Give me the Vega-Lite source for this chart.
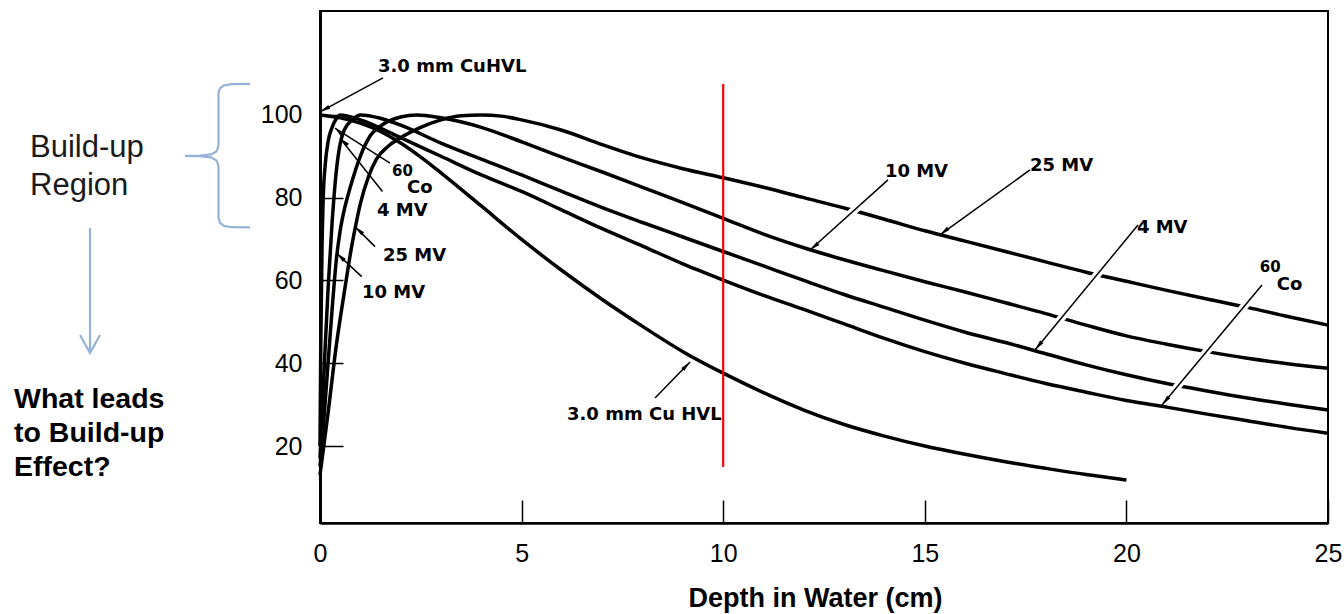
{
  "$schema": "https://vega.github.io/schema/vega-lite/v6.json",
  "width": 1008,
  "height": 512,
  "autosize": {"type": "none"},
  "padding": {"left": 320, "top": 11, "right": 16, "bottom": 91},
  "background": "white",
  "config": {"view": {"stroke": "black", "strokeWidth": 2}, "axis": {"grid": false}},
  "datasets": {
    "curves": [
      {"beam":"Cu","depth":0,"dose":100},{"beam":"Cu","depth":0.5,"dose":99.3},{"beam":"Cu","depth":1,"dose":98},{"beam":"Cu","depth":1.5,"dose":96},{"beam":"Cu","depth":2,"dose":93.2},{"beam":"Cu","depth":2.5,"dose":89.8},{"beam":"Cu","depth":3,"dose":86},{"beam":"Cu","depth":4,"dose":78},{"beam":"Cu","depth":5,"dose":69.9},{"beam":"Cu","depth":6,"dose":62.4},{"beam":"Cu","depth":7,"dose":55.4},{"beam":"Cu","depth":8,"dose":48.9},{"beam":"Cu","depth":9,"dose":42.8},{"beam":"Cu","depth":10,"dose":37.6},{"beam":"Cu","depth":11,"dose":32.9},{"beam":"Cu","depth":12,"dose":28.7},{"beam":"Cu","depth":13,"dose":25.2},{"beam":"Cu","depth":14,"dose":22.4},{"beam":"Cu","depth":15,"dose":20},{"beam":"Cu","depth":16,"dose":18},{"beam":"Cu","depth":17,"dose":16.2},{"beam":"Cu","depth":18,"dose":14.6},{"beam":"Cu","depth":19,"dose":13.1},{"beam":"Cu","depth":20,"dose":11.8},
      {"beam":"Co","depth":0,"dose":20},{"beam":"Co","depth":0.02,"dose":45},{"beam":"Co","depth":0.05,"dose":68},{"beam":"Co","depth":0.08,"dose":80},{"beam":"Co","depth":0.13,"dose":88},{"beam":"Co","depth":0.2,"dose":93.5},{"beam":"Co","depth":0.3,"dose":97},{"beam":"Co","depth":0.4,"dose":99},{"beam":"Co","depth":0.5,"dose":100},{"beam":"Co","depth":1,"dose":98.8},{"beam":"Co","depth":2,"dose":94.5},{"beam":"Co","depth":3,"dose":90},{"beam":"Co","depth":4,"dose":85.5},{"beam":"Co","depth":5,"dose":81.5},{"beam":"Co","depth":6,"dose":77},{"beam":"Co","depth":7,"dose":72.5},{"beam":"Co","depth":8,"dose":68.3},{"beam":"Co","depth":9,"dose":64},{"beam":"Co","depth":10,"dose":60.1},{"beam":"Co","depth":11,"dose":56.4},{"beam":"Co","depth":12,"dose":53},{"beam":"Co","depth":13,"dose":49.5},{"beam":"Co","depth":14,"dose":46},{"beam":"Co","depth":15,"dose":42.8},{"beam":"Co","depth":16,"dose":40},{"beam":"Co","depth":17,"dose":37.5},{"beam":"Co","depth":18,"dose":35.1},{"beam":"Co","depth":19,"dose":33},{"beam":"Co","depth":20,"dose":31},{"beam":"Co","depth":21,"dose":29.4},{"beam":"Co","depth":22,"dose":27.7},{"beam":"Co","depth":23,"dose":26.1},{"beam":"Co","depth":24,"dose":24.5},{"beam":"Co","depth":25,"dose":23.1},
      {"beam":"4MV","depth":0,"dose":17},{"beam":"4MV","depth":0.1,"dose":38},{"beam":"4MV","depth":0.2,"dose":58},{"beam":"4MV","depth":0.3,"dose":74},{"beam":"4MV","depth":0.4,"dose":86},{"beam":"4MV","depth":0.5,"dose":93},{"beam":"4MV","depth":0.6,"dose":96.3},{"beam":"4MV","depth":0.8,"dose":98.8},{"beam":"4MV","depth":1,"dose":100},{"beam":"4MV","depth":1.5,"dose":99.2},{"beam":"4MV","depth":2,"dose":97.5},{"beam":"4MV","depth":3,"dose":93.2},{"beam":"4MV","depth":4,"dose":89.3},{"beam":"4MV","depth":5,"dose":85.5},{"beam":"4MV","depth":6,"dose":81.5},{"beam":"4MV","depth":7,"dose":77.6},{"beam":"4MV","depth":8,"dose":74},{"beam":"4MV","depth":9,"dose":70.5},{"beam":"4MV","depth":10,"dose":67},{"beam":"4MV","depth":11,"dose":63.5},{"beam":"4MV","depth":12,"dose":60},{"beam":"4MV","depth":13,"dose":56.6},{"beam":"4MV","depth":14,"dose":53.5},{"beam":"4MV","depth":15,"dose":50.4},{"beam":"4MV","depth":16,"dose":47.5},{"beam":"4MV","depth":17,"dose":45},{"beam":"4MV","depth":18,"dose":42.3},{"beam":"4MV","depth":19,"dose":39.6},{"beam":"4MV","depth":20,"dose":37.2},{"beam":"4MV","depth":21,"dose":35.1},{"beam":"4MV","depth":22,"dose":33.3},{"beam":"4MV","depth":23,"dose":31.6},{"beam":"4MV","depth":24,"dose":30.1},{"beam":"4MV","depth":25,"dose":28.7},
      {"beam":"10MV","depth":0,"dose":15},{"beam":"10MV","depth":0.1,"dose":27},{"beam":"10MV","depth":0.2,"dose":40},{"beam":"10MV","depth":0.3,"dose":53},{"beam":"10MV","depth":0.4,"dose":64.5},{"beam":"10MV","depth":0.5,"dose":72},{"beam":"10MV","depth":0.6,"dose":77},{"beam":"10MV","depth":0.75,"dose":82.5},{"beam":"10MV","depth":1,"dose":90},{"beam":"10MV","depth":1.25,"dose":95},{"beam":"10MV","depth":1.5,"dose":97.3},{"beam":"10MV","depth":2,"dose":99.5},{"beam":"10MV","depth":2.4,"dose":100},{"beam":"10MV","depth":3,"dose":99.3},{"beam":"10MV","depth":4,"dose":97},{"beam":"10MV","depth":5,"dose":93.5},{"beam":"10MV","depth":6,"dose":89.8},{"beam":"10MV","depth":7,"dose":86.2},{"beam":"10MV","depth":8,"dose":82.5},{"beam":"10MV","depth":9,"dose":78.8},{"beam":"10MV","depth":10,"dose":75},{"beam":"10MV","depth":11,"dose":71.2},{"beam":"10MV","depth":12,"dose":67.9},{"beam":"10MV","depth":13,"dose":65},{"beam":"10MV","depth":14,"dose":62.3},{"beam":"10MV","depth":15,"dose":59.7},{"beam":"10MV","depth":16,"dose":57.2},{"beam":"10MV","depth":17,"dose":54.6},{"beam":"10MV","depth":18,"dose":52},{"beam":"10MV","depth":19,"dose":49.2},{"beam":"10MV","depth":20,"dose":46.6},{"beam":"10MV","depth":21,"dose":44.6},{"beam":"10MV","depth":22,"dose":42.8},{"beam":"10MV","depth":23,"dose":41.2},{"beam":"10MV","depth":24,"dose":39.9},{"beam":"10MV","depth":25,"dose":38.8},
      {"beam":"25MV","depth":0,"dose":13},{"beam":"25MV","depth":0.2,"dose":28},{"beam":"25MV","depth":0.4,"dose":44},{"beam":"25MV","depth":0.6,"dose":57},{"beam":"25MV","depth":0.8,"dose":69},{"beam":"25MV","depth":0.9,"dose":74},{"beam":"25MV","depth":1,"dose":78.5},{"beam":"25MV","depth":1.2,"dose":85},{"beam":"25MV","depth":1.4,"dose":89.3},{"beam":"25MV","depth":1.7,"dose":92.5},{"beam":"25MV","depth":2,"dose":94.5},{"beam":"25MV","depth":2.5,"dose":97},{"beam":"25MV","depth":3,"dose":98.8},{"beam":"25MV","depth":3.5,"dose":99.8},{"beam":"25MV","depth":4,"dose":100},{"beam":"25MV","depth":4.5,"dose":99.7},{"beam":"25MV","depth":5,"dose":98.8},{"beam":"25MV","depth":6,"dose":96.3},{"beam":"25MV","depth":7,"dose":92.8},{"beam":"25MV","depth":8,"dose":89.6},{"beam":"25MV","depth":9,"dose":87},{"beam":"25MV","depth":10,"dose":84.8},{"beam":"25MV","depth":11,"dose":82.5},{"beam":"25MV","depth":12,"dose":80},{"beam":"25MV","depth":13,"dose":77.5},{"beam":"25MV","depth":14,"dose":74.8},{"beam":"25MV","depth":15,"dose":72},{"beam":"25MV","depth":16,"dose":69.5},{"beam":"25MV","depth":17,"dose":67},{"beam":"25MV","depth":18,"dose":64.5},{"beam":"25MV","depth":19,"dose":62},{"beam":"25MV","depth":20,"dose":59.8},{"beam":"25MV","depth":21,"dose":57.6},{"beam":"25MV","depth":22,"dose":55.5},{"beam":"25MV","depth":23,"dose":53.5},{"beam":"25MV","depth":24,"dose":51.3},{"beam":"25MV","depth":25,"dose":49.2}
    ],
    "labels": [
      {"t":"3.0 mm CuHVL","depth":1.438,"dose":110.39},
      {"t":"Co","depth":2.158,"dose":81.15},
      {"t":"4 MV","depth":1.414,"dose":75.59},
      {"t":"25 MV","depth":1.563,"dose":64.71},
      {"t":"10 MV","depth":1.042,"dose":55.77},
      {"t":"10 MV","depth":14.01,"dose":85.0},
      {"t":"25 MV","depth":17.61,"dose":86.47},
      {"t":"4 MV","depth":20.26,"dose":71.48},
      {"t":"Co","depth":23.73,"dose":57.7},
      {"t":"3.0 mm Cu HVL","depth":6.126,"dose":26.28}
    ],
    "sups": [
      {"t":"60","depth":1.786,"dose":85.26},
      {"t":"60","depth":23.31,"dose":62.05}
    ],
    "side": [
      {"t":"Build-up","depth":-7.192,"dose":89.85},
      {"t":"Region","depth":-7.192,"dose":80.66}
    ],
    "question": [
      {"t":"What leads","depth":-7.589,"dose":29.18},
      {"t":"to Build-up","depth":-7.589,"dose":20.97},
      {"t":"Effect?","depth":-7.589,"dose":12.75}
    ],
    "halo": [
      {"depth":13.70,"dose":80.9,"depth2":12.54,"dose2":70.75},
      {"depth":20.03,"dose":70.39,"depth2":18.12,"dose2":47.73},
      {"depth":23.115,"dose":56.01,"depth2":21.13,"dose2":32.8}
    ],
    "arrows": [
      {"g":"A","depth":1.5625,"dose":108.94,"depth2":0,"dose2":100.73},
      {"g":"D","depth":1.736,"dose":88.33,"depth2":0.372,"dose2":96.79},
      {"g":"D","depth":1.55,"dose":81.5,"depth2":0.496,"dose2":94.37},
      {"g":"D","depth":1.364,"dose":68.17,"depth2":0.868,"dose2":73.0},
      {"g":"D","depth":1.034,"dose":60.92,"depth2":0.414,"dose2":66.57},
      {"g":"B","depth":14.087,"dose":84.29,"depth2":12.153,"dose2":67.37},
      {"g":"B","depth":17.609,"dose":86.71,"depth2":15.377,"dose2":70.99},
      {"g":"C","depth":20.288,"dose":73.41,"depth2":17.733,"dose2":43.2},
      {"g":"C","depth":23.363,"dose":58.91,"depth2":20.883,"dose2":29.91},
      {"g":"E","depth":8.309,"dose":31.6,"depth2":9.177,"dose2":40.3}
    ],
    "deco": [
      {"part":"brace","i":1,"depth":-1.736,"dose":107.49},
      {"part":"brace","i":2,"depth":-2.183,"dose":107.42},
      {"part":"brace","i":3,"depth":-2.381,"dose":107.13},
      {"part":"brace","i":4,"depth":-2.48,"dose":106.4},
      {"part":"brace","i":5,"depth":-2.517,"dose":105.32},
      {"part":"brace","i":6,"depth":-2.517,"dose":92.51},
      {"part":"brace","i":7,"depth":-2.567,"dose":91.18},
      {"part":"brace","i":8,"depth":-2.703,"dose":90.45},
      {"part":"brace","i":9,"depth":-2.976,"dose":90.16},
      {"part":"brace","i":10,"depth":-3.348,"dose":90.09},
      {"part":"brace","i":11,"depth":-2.976,"dose":90.02},
      {"part":"brace","i":12,"depth":-2.703,"dose":89.73},
      {"part":"brace","i":13,"depth":-2.567,"dose":89.0},
      {"part":"brace","i":14,"depth":-2.517,"dose":87.67},
      {"part":"brace","i":15,"depth":-2.517,"dose":75.11},
      {"part":"brace","i":16,"depth":-2.48,"dose":73.9},
      {"part":"brace","i":17,"depth":-2.381,"dose":73.17},
      {"part":"brace","i":18,"depth":-2.183,"dose":72.86},
      {"part":"brace","i":19,"depth":-1.736,"dose":72.81},
      {"part":"shaft","i":1,"depth":-5.704,"dose":72.69},
      {"part":"shaft","i":2,"depth":-5.704,"dose":42.6},
      {"part":"chev","i":1,"depth":-5.952,"dose":46.83},
      {"part":"chev","i":2,"depth":-5.704,"dose":42.48},
      {"part":"chev","i":3,"depth":-5.456,"dose":46.83}
    ],
    "redline": [
      {"depth":10,"dose":14.92,"dose2":107.49}
    ]
  },
  "layer": [
    {
      "data": {"name": "curves"},
      "mark": {"type": "line", "color": "black", "strokeWidth": 3.5, "interpolate": "monotone"},
      "encoding": {
        "x": {"field": "depth", "type": "quantitative", "title": "Depth in Water (cm)", "scale": {"domain": [0, 25], "nice": false, "zero": false},
          "axis": {"values": [0, 5, 10, 15, 20, 25], "tickSize": -23, "tickColor": "black", "tickWidth": 1.5,
            "domainColor": "black", "domainWidth": 2.5, "labelFont": "Liberation Sans Narrow, Liberation Sans", "labelFontSize": 25,
            "labelColor": "black", "labelPadding": 41, "labelFlush": false, "labelOverlap": false,
            "title": "Depth in Water (cm)", "titleFont": "Liberation Sans", "titleFontWeight": "bold", "titleFontSize": 27,
            "titleColor": "black", "titleBaseline": "alphabetic", "titleY": 83, "titleX": 495}},
        "y": {"field": "dose", "type": "quantitative", "title": null, "scale": {"domain": [1.4, 125.1], "nice": false, "zero": false},
          "axis": {"values": [20, 40, 60, 80, 100], "tickSize": -23, "tickColor": "black", "tickWidth": 1.5,
            "domainColor": "black", "domainWidth": 3, "labelFont": "Liberation Sans Narrow, Liberation Sans", "labelFontSize": 25,
            "labelColor": "black", "labelPadding": 41, "labelOverlap": false, "title": null}},
        "detail": {"field": "beam"}
      }
    },
    {
      "data": {"name": "halo"},
      "mark": {"type": "rule", "color": "white", "strokeWidth": 8, "strokeCap": "butt"},
      "encoding": {
        "x": {"field": "depth", "type": "quantitative"},
        "y": {"field": "dose", "type": "quantitative"},
        "x2": {"field": "depth2"},
        "y2": {"field": "dose2"}
      }
    },
    {
      "data": {"name": "redline"},
      "mark": {"type": "rule", "color": "#ff0000", "strokeWidth": 2.2},
      "encoding": {
        "x": {"field": "depth", "type": "quantitative"},
        "y": {"field": "dose", "type": "quantitative"},
        "y2": {"field": "dose2"}
      }
    },
    {
      "data": {"name": "arrows"},
      "mark": {"type": "rule", "color": "black", "strokeWidth": 1.5},
      "encoding": {
        "x": {"field": "depth", "type": "quantitative"},
        "y": {"field": "dose", "type": "quantitative"},
        "x2": {"field": "depth2"},
        "y2": {"field": "dose2"}
      }
    },
    {
      "data": {"name": "arrows"},
      "transform": [{"filter": "datum.g == 'A'"}],
      "mark": {"type": "point", "filled": true, "color": "black", "opacity": 1, "shape": "M0,0L0.45,2.2L-0.45,2.2Z", "size": 90, "angle": 242},
      "encoding": {"x": {"field": "depth2", "type": "quantitative"}, "y": {"field": "dose2", "type": "quantitative"}}
    },
    {
      "data": {"name": "arrows"},
      "transform": [{"filter": "datum.g == 'B'"}],
      "mark": {"type": "point", "filled": true, "color": "black", "opacity": 1, "shape": "M0,0L0.45,2.2L-0.45,2.2Z", "size": 90, "angle": 231},
      "encoding": {"x": {"field": "depth2", "type": "quantitative"}, "y": {"field": "dose2", "type": "quantitative"}}
    },
    {
      "data": {"name": "arrows"},
      "transform": [{"filter": "datum.g == 'C'"}],
      "mark": {"type": "point", "filled": true, "color": "black", "opacity": 1, "shape": "M0,0L0.45,2.2L-0.45,2.2Z", "size": 90, "angle": 220},
      "encoding": {"x": {"field": "depth2", "type": "quantitative"}, "y": {"field": "dose2", "type": "quantitative"}}
    },
    {
      "data": {"name": "arrows"},
      "transform": [{"filter": "datum.g == 'D'"}],
      "mark": {"type": "point", "filled": true, "color": "black", "opacity": 1, "shape": "M0,0L0.45,2.2L-0.45,2.2Z", "size": 90, "angle": 313},
      "encoding": {"x": {"field": "depth2", "type": "quantitative"}, "y": {"field": "dose2", "type": "quantitative"}}
    },
    {
      "data": {"name": "arrows"},
      "transform": [{"filter": "datum.g == 'E'"}],
      "mark": {"type": "point", "filled": true, "color": "black", "opacity": 1, "shape": "M0,0L0.45,2.2L-0.45,2.2Z", "size": 90, "angle": 44},
      "encoding": {"x": {"field": "depth2", "type": "quantitative"}, "y": {"field": "dose2", "type": "quantitative"}}
    },
    {
      "data": {"name": "labels"},
      "mark": {"type": "text", "align": "left", "baseline": "alphabetic", "font": "DejaVu Sans", "fontWeight": "bold", "fontSize": 18, "color": "black"},
      "encoding": {
        "x": {"field": "depth", "type": "quantitative"},
        "y": {"field": "dose", "type": "quantitative"},
        "text": {"field": "t"}
      }
    },
    {
      "data": {"name": "sups"},
      "mark": {"type": "text", "align": "left", "baseline": "alphabetic", "font": "DejaVu Sans", "fontWeight": "bold", "fontSize": 15, "color": "black"},
      "encoding": {
        "x": {"field": "depth", "type": "quantitative"},
        "y": {"field": "dose", "type": "quantitative"},
        "text": {"field": "t"}
      }
    },
    {
      "data": {"name": "deco"},
      "mark": {"type": "line", "color": "#95B3D7", "strokeWidth": 2.2},
      "encoding": {
        "x": {"field": "depth", "type": "quantitative"},
        "y": {"field": "dose", "type": "quantitative"},
        "detail": {"field": "part"},
        "order": {"field": "i", "type": "quantitative"}
      }
    },
    {
      "data": {"name": "side"},
      "mark": {"type": "text", "align": "left", "baseline": "alphabetic", "font": "Liberation Sans", "fontSize": 31, "color": "#1a1a1a"},
      "encoding": {
        "x": {"field": "depth", "type": "quantitative"},
        "y": {"field": "dose", "type": "quantitative"},
        "text": {"field": "t"}
      }
    },
    {
      "data": {"name": "question"},
      "mark": {"type": "text", "align": "left", "baseline": "alphabetic", "font": "Liberation Sans", "fontWeight": "bold", "fontSize": 28.5, "color": "black"},
      "encoding": {
        "x": {"field": "depth", "type": "quantitative"},
        "y": {"field": "dose", "type": "quantitative"},
        "text": {"field": "t"}
      }
    }
  ]
}
